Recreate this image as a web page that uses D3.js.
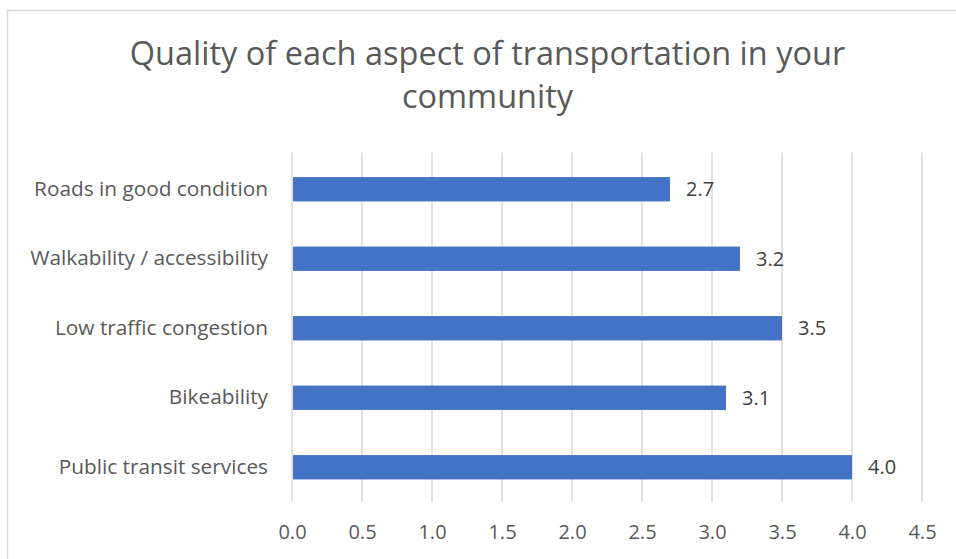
<!DOCTYPE html>
<html>
<head>
<meta charset="utf-8">
<script src="https://cdn.jsdelivr.net/npm/d3@7"></script>
<style>
  html, body { margin: 0; padding: 0; background: #fff; overflow: hidden; }
  svg { display: block; }
  text { font-variant-ligatures: none; }
</style>
</head>
<body>
<svg id="chart" width="956" height="559"></svg>
<script>
// Survey results: average rating per transportation aspect
const categories = [
  "Roads in good condition",
  "Walkability / accessibility",
  "Low traffic congestion",
  "Bikeability",
  "Public transit services"
];
const values = [2.7, 3.2, 3.5, 3.1, 4.0];
const xTicks = [0, 0.5, 1, 1.5, 2, 2.5, 3, 3.5, 4, 4.5];
const titleLines = ["Quality of each aspect of transportation in your", "community"];

const FONT = "'Open Sans', sans-serif";
const svg = d3.select("#chart");

// chart frame
svg.append("rect")
  .attr("x", 7.5).attr("y", 10.5)
  .attr("width", 1000).attr("height", 600)
  .attr("fill", "#fff")
  .attr("stroke", "#d9d9d9").attr("stroke-width", 1.5);

const plot = { left: 292, right: 922, top: 154.5, bottom: 502 };

const x = d3.scaleLinear().domain([0, 4.5]).range([plot.left, plot.right]);
const y = d3.scaleBand().domain(categories).range([plot.top, plot.bottom]).paddingInner(0.65).paddingOuter(0.325);

// title
svg.append("text")
  .attr("x", 487.5).attr("y", 65)
  .attr("text-anchor", "middle")
  .attr("font-family", FONT).attr("font-size", 32.5)
  .attr("fill", "#595959")
  .selectAll("tspan").data(titleLines).join("tspan")
  .attr("x", 487.5)
  .attr("dy", (d, i) => i === 0 ? 0 : 43)
  .text(d => d);

// vertical gridlines
svg.append("g")
  .selectAll("line").data(xTicks).join("line")
  .attr("x1", d => x(d)).attr("x2", d => x(d))
  .attr("y1", plot.top - 2).attr("y2", plot.bottom)
  .attr("stroke", "#d9d9d9").attr("stroke-width", 1.5);

// x axis labels (no axis line)
const xAxis = d3.axisBottom(x).tickValues(xTicks).tickFormat(d3.format(".1f")).tickSize(0).tickPadding(0);
const gx = svg.append("g").attr("transform", `translate(0,${plot.bottom + 23})`).call(xAxis);
gx.select(".domain").remove();
gx.selectAll("text")
  .attr("font-family", FONT).attr("font-size", 20)
  .attr("fill", "#595959").attr("dy", "0.71em");

// category labels
const yAxis = d3.axisLeft(y).tickSize(0).tickPadding(24);
const gy = svg.append("g").attr("transform", `translate(${plot.left},0)`).call(yAxis);
gy.select(".domain").remove();
gy.selectAll("text")
  .attr("font-family", FONT).attr("font-size", 20.8)
  .attr("fill", "#595959");

// bars
svg.append("g")
  .selectAll("rect").data(values).join("rect")
  .attr("x", x(0) + 1)
  .attr("y", (d, i) => y(categories[i]))
  .attr("width", d => x(d) - x(0) - 1)
  .attr("height", y.bandwidth())
  .attr("fill", "#4472c4");

// value labels
svg.append("g")
  .selectAll("text").data(values).join("text")
  .attr("x", d => x(d) + 16)
  .attr("y", (d, i) => y(categories[i]) + y.bandwidth() / 2)
  .attr("dy", "0.35em")
  .attr("font-family", FONT).attr("font-size", 20)
  .attr("fill", "#404040")
  .text(d => d3.format(".1f")(d));
</script>
</body>
</html>
